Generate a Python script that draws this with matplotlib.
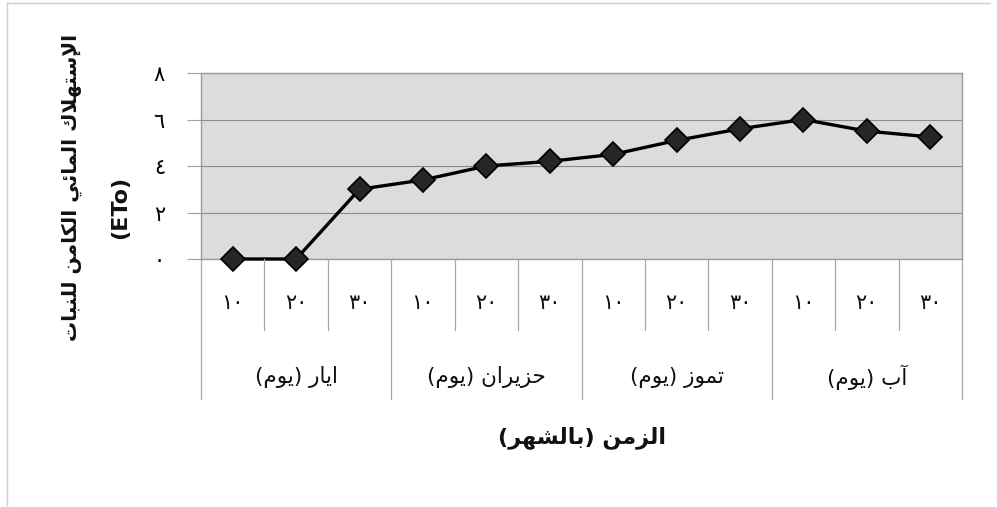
import matplotlib
matplotlib.use("Agg")
import matplotlib.pyplot as plt
from matplotlib.lines import Line2D
import matplotlib.transforms as mtransforms

# ---------------------------------------------------------------------------
# Data
# ---------------------------------------------------------------------------
day_labels = ["١٠", "٢٠", "٣٠"] * 4
months = ["ايار (يوم)", "حزيران (يوم)", "تموز (يوم)", "آب (يوم)"]
et0_values = [0.0, 0.0, 3.0, 3.4, 4.0, 4.2, 4.5, 5.1, 5.6, 6.0, 5.5, 5.25]
y_ticks = [0, 2, 4, 6, 8]
y_tick_labels = ["٠", "٢", "٤", "٦", "٨"]
y_label_line1 = "الإستهلاك المائي الكامن للنبات"
y_label_line2 = "(ETo)"
x_label = "الزمن (بالشهر)"

# ---------------------------------------------------------------------------
# Minimal Arabic shaping (contextual presentation forms + RTL ordering)
# ---------------------------------------------------------------------------
BASE2 = {'آ': 0xFE81, 'أ': 0xFE83, 'ؤ': 0xFE85, 'إ': 0xFE87, 'ا': 0xFE8D,
         'ة': 0xFE93, 'د': 0xFEA9, 'ذ': 0xFEAB, 'ر': 0xFEAD, 'ز': 0xFEAF,
         'و': 0xFEED, 'ى': 0xFEEF}
BASE4 = {'ئ': 0xFE89, 'ب': 0xFE8F, 'ت': 0xFE95, 'ث': 0xFE99, 'ج': 0xFE9D,
         'ح': 0xFEA1, 'خ': 0xFEA5, 'س': 0xFEB1, 'ش': 0xFEB5, 'ص': 0xFEB9,
         'ض': 0xFEBD, 'ط': 0xFEC1, 'ظ': 0xFEC5, 'ع': 0xFEC9, 'غ': 0xFECD,
         'ف': 0xFED1, 'ق': 0xFED5, 'ك': 0xFED9, 'ل': 0xFEDD, 'م': 0xFEE1,
         'ن': 0xFEE5, 'ه': 0xFEE9, 'ي': 0xFEF1}
LAMALEF = {'آ': 0xFEF5, 'أ': 0xFEF7, 'إ': 0xFEF9, 'ا': 0xFEFB}
MIRROR = {'(': ')', ')': '('}


def _shape(s):
    units = []
    i = 0
    while i < len(s):
        c = s[i]
        if c == 'ل' and i + 1 < len(s) and s[i + 1] in LAMALEF:
            units.append(('LA', s[i + 1]))
            i += 2
        else:
            units.append(('C', c))
            i += 1

    def joins_next(u):
        return u[0] == 'C' and u[1] in BASE4

    def joinable(u):
        return u[0] == 'LA' or u[1] in BASE2 or u[1] in BASE4

    out = []
    for k, u in enumerate(units):
        prev = units[k - 1] if k > 0 else None
        nxt = units[k + 1] if k + 1 < len(units) else None
        p = prev is not None and joins_next(prev) and joinable(u)
        n = nxt is not None and joins_next(u) and joinable(nxt)
        if u[0] == 'LA':
            out.append(chr(LAMALEF[u[1]] + (1 if p else 0)))
        elif u[1] in BASE4:
            b = BASE4[u[1]]
            out.append(chr(b + (3 if (p and n) else 2 if n else 1 if p else 0)))
        elif u[1] in BASE2:
            out.append(chr(BASE2[u[1]] + (1 if p else 0)))
        elif u[1] == 'ء':
            out.append('\uFE80')
        else:
            out.append(u[1])
    return ''.join(out)


def ar(s):
    shaped = _shape(s)
    return ''.join(MIRROR.get(c, c) for c in reversed(shaped))


# ---------------------------------------------------------------------------
# Figure
# ---------------------------------------------------------------------------
plt.rcParams['font.family'] = ['DejaVu Sans']
W, H = 997, 507
fig = plt.figure(figsize=(W / 100, H / 100), dpi=100)
fig.patch.set_facecolor('white')

ax_left, ax_right, ax_top, ax_bottom = 201, 962, 73, 259
ax = fig.add_axes([ax_left / W, 1 - ax_bottom / H,
                   (ax_right - ax_left) / W, (ax_bottom - ax_top) / H])
ax.set_facecolor('#dcdcdc')

n = len(et0_values)
x = list(range(n))
ax.set_xlim(-0.5, n - 0.5)
ax.set_ylim(0, 8)

ax.set_yticks(y_ticks)
ax.set_yticklabels(y_tick_labels, fontsize=15)
ax.tick_params(axis='y', length=10, width=0.8, color='#a0a0a0', pad=16)
ax.set_xticks([])

ax.yaxis.grid(True, color='#8c8c8c', linewidth=0.8)
ax.set_axisbelow(True)
for side in ['top', 'right', 'left', 'bottom']:
    ax.spines[side].set_color('#9a9a9a')
    ax.spines[side].set_linewidth(1.0)

ax.plot(x, et0_values, color='black', linewidth=2.4, marker='D',
        markersize=12.5, markerfacecolor='#262626', markeredgecolor='black',
        markeredgewidth=1.2, zorder=5, clip_on=False)

# Category separators and grouped labels below the axis
trans = mtransforms.blended_transform_factory(ax.transData, fig.transFigure)


def fy(py):
    return 1 - py / H


for b in range(n + 1):
    xb = b - 0.5
    long_line = (b % 3 == 0)
    y_end = 399 if long_line else 330
    fig.add_artist(Line2D([xb, xb], [fy(ax_bottom), fy(y_end)],
                          transform=trans, color='#a8a8a8', linewidth=0.9))

for i, lab in enumerate(day_labels):
    fig.text(i, fy(303), lab, transform=trans, ha='center', va='center',
             fontsize=15, color='#111111')

for g, m in enumerate(months):
    fig.text(g * 3 + 1, fy(377), ar(m), transform=trans, ha='center',
             va='center', fontsize=15.5, color='#111111')

fig.text(582 / W, fy(438), ar(x_label), ha='center', va='center',
         fontsize=16, fontweight='bold', color='#111111')

fig.text(72 / W, fy(187), ar(y_label_line1), ha='center', va='center',
         rotation=90, fontsize=14.5, fontweight='bold', color='#111111')
fig.text(120 / W, fy(207), y_label_line2, ha='center', va='center',
         rotation=90, fontsize=16, fontweight='bold', color='#111111')

# Light frame around the chart area
fig.add_artist(Line2D([7 / W, 990 / W], [fy(3), fy(3)], color='#cfcfcf',
                      linewidth=1.0))
fig.add_artist(Line2D([7 / W, 7 / W], [fy(3), fy(505)], color='#cfcfcf',
                      linewidth=1.0))

fig.savefig('out.png', dpi=100)
